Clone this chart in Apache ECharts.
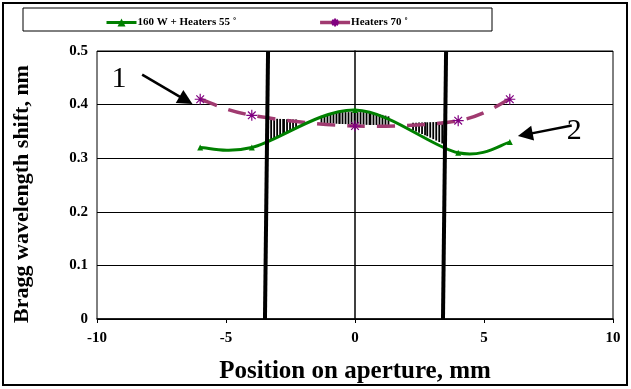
<!DOCTYPE html>
<html>
<head>
<meta charset="utf-8">
<script src="https://cdn.jsdelivr.net/npm/echarts@6/dist/echarts.min.js"></script>
<style>
  html, body { margin: 0; padding: 0; background: #fff; }
  #main { width: 631px; height: 389px; }
</style>
</head>
<body>
<div id="main"></div>
<script>
// data
var positions = [-6, -4, 0, 4, 6]
var shift160W = [0.32, 0.32, 0.39, 0.31, 0.33]
var shift70 = [0.41, 0.38, 0.36, 0.37, 0.41]
var xTicks = [-10, -5, 0, 5, 10]
var yTicks = [0, 0.1, 0.2, 0.3, 0.4, 0.5]
// aperture edges (thick black lines), slightly tilted
var leftEdge = [[-3.49, 0], [-3.37, 0.5]]
var rightEdge = [[3.41, 0], [3.53, 0.5]]
// hatched zones between curves: [xStart, xEnd, topStart, topEnd, bottomStart, bottomEnd]
var hatchBands = [
    [-3.25, -2.75, 0.374, 0.373, 0.335, 0.345],
    [-2.75, -2.2, 0.373, 0.372, 0.345, 0.356],
    [-1.3, -0.6, 0.377, 0.386, 0.366, 0.364],
    [-0.6, 0.6, 0.386, 0.386, 0.364, 0.362],
    [0.6, 1.4, 0.386, 0.377, 0.362, 0.362],
    [2.25, 2.8, 0.366, 0.367, 0.352, 0.341],
    [2.8, 3.4, 0.367, 0.368, 0.341, 0.327]
]
// annotation arrows and labels
var arrows = [
    [[-8.25, 0.456], [-6.55, 0.408]],
    [[8.4, 0.361], [6.6, 0.344]]
]
var notes = [
    [-9.15, 0.448, '1'],
    [8.5, 0.35, '2']
]

var name160 = '160 W + Heaters 55 ˚'
var name70 = 'Heaters 70 ˚'

function pairs (xs, ys) {
    var out = []
    for (var i = 0; i < xs.length; i++) {
        out.push([xs[i], ys[i]])
    }
    return out
}

// excel-like smoothed curve (catmull-rom bezier), drawn through the axis scales
function smoothCurve (xs, ys, style) {
    return {
        type: 'custom',
        silent: true,
        data: pairs(xs, ys),
        z: 3,
        renderItem: function (params, api) {
            if (params.dataIndex !== 0) return null
            var pts = []
            for (var i = 0; i < xs.length; i++) {
                pts.push(api.coord([xs[i], ys[i]]))
            }
            var d = 'M' + pts[0][0] + ' ' + pts[0][1]
            for (var j = 0; j < pts.length - 1; j++) {
                var p0 = pts[j > 0 ? j - 1 : j]
                var p1 = pts[j]
                var p2 = pts[j + 1]
                var p3 = pts[j + 2 < pts.length ? j + 2 : j + 1]
                var c1x = p1[0] + (p2[0] - p0[0]) / 6
                var c1y = p1[1] + (p2[1] - p0[1]) / 6
                var c2x = p2[0] - (p3[0] - p1[0]) / 6
                var c2y = p2[1] - (p3[1] - p1[1]) / 6
                d += ' C' + c1x + ' ' + c1y + ' ' + c2x + ' ' + c2y + ' ' + p2[0] + ' ' + p2[1]
            }
            return {
                type: 'path',
                shape: { pathData: d },
                style: style
            }
        }
    }
}

var serif = '"Liberation Serif", "DejaVu Serif", serif'
var myChart = echarts.init(document.getElementById('main'))

var curve70 = smoothCurve(positions, shift70, { fill: 'none', stroke: '#a03a70', lineWidth: 3.5, lineDash: [18, 12] })
var curve160 = smoothCurve(positions, shift160W, { fill: 'none', stroke: '#008000', lineWidth: 3 })
curve160.z = 4

var option = {
    backgroundColor: '#fff',
    animation: false,
    textStyle: { fontFamily: serif },
    graphic: [
        {
            type: 'rect',
            shape: { x: 3, y: 3, width: 624, height: 382 },
            style: { fill: 'none', stroke: '#000', lineWidth: 2 }
        },
        {
            type: 'rect',
            shape: { x: 23, y: 8, width: 469, height: 23 },
            style: { fill: 'none', stroke: '#000', lineWidth: 1 }
        }
    ],
    legend: {
        data: [
            { name: name160, lineStyle: { opacity: 1, color: '#008000', width: 3 } },
            { name: name70, lineStyle: { opacity: 1, color: '#a03a70', width: 3.5, type: 'solid' } }
        ],
        left: 100,
        top: 12,
        itemWidth: 30,
        itemHeight: 10,
        itemGap: 82,
        textStyle: { fontFamily: serif, fontWeight: 'bold', fontSize: 11, color: '#000', padding: [0, 0, 0, -4] }
    },
    grid: {
        left: 97,
        right: 18,
        top: 51,
        bottom: 68,
        show: true,
        borderColor: '#000',
        borderWidth: 1
    },
    xAxis: {
        type: 'value',
        min: xTicks[0],
        max: xTicks[xTicks.length - 1],
        interval: 5,
        name: 'Position on aperture, mm',
        nameLocation: 'middle',
        nameGap: 40,
        nameTextStyle: { fontFamily: serif, fontWeight: 'bold', fontSize: 25, color: '#000' },
        axisLine: { lineStyle: { color: '#000', width: 1.5 } },
        axisTick: { length: 4, lineStyle: { color: '#000' } },
        axisLabel: { fontFamily: serif, fontWeight: 'bold', fontSize: 15, color: '#000', margin: 12 },
        splitLine: { show: false }
    },
    yAxis: {
        type: 'value',
        min: yTicks[0],
        max: yTicks[yTicks.length - 1],
        interval: 0.1,
        name: 'Bragg wavelength shift, nm',
        nameLocation: 'middle',
        nameGap: 64,
        nameTextStyle: { fontFamily: serif, fontWeight: 'bold', fontSize: 22, color: '#000', padding: [0, 18, 0, 0] },
        axisLine: { show: true, lineStyle: { color: '#000', width: 1.5 } },
        axisTick: { show: true, length: 4, lineStyle: { color: '#000' } },
        axisLabel: { fontFamily: serif, fontWeight: 'bold', fontSize: 15, color: '#000', margin: 9 },
        splitLine: { show: true, lineStyle: { color: '#000', width: 1 } }
    },
    series: [
        {
            name: 'hatch',
            type: 'custom',
            silent: true,
            data: hatchBands,
            encode: { x: [0, 1], y: [2, 3, 4, 5] },
            z: 2,
            renderItem: function (params, api) {
                var p0 = api.coord([api.value(0), api.value(2)])
                var p1 = api.coord([api.value(1), api.value(3)])
                var b0 = api.coord([api.value(0), api.value(4)])
                var b1 = api.coord([api.value(1), api.value(5)])
                var kids = []
                var w = p1[0] - p0[0]
                for (var px = 0; px <= w; px += 3) {
                    var t = w > 0 ? px / w : 0
                    var x = p0[0] + px
                    kids.push({
                        type: 'line',
                        shape: {
                            x1: x, y1: p0[1] + (p1[1] - p0[1]) * t,
                            x2: x, y2: b0[1] + (b1[1] - b0[1]) * t
                        },
                        style: { stroke: '#000', lineWidth: 1.8 }
                    })
                }
                return { type: 'group', children: kids }
            }
        },
        curve70,
        curve160,
        {
            name: name70,
            type: 'line',
            data: pairs(positions, shift70),
            symbol: 'path://M5 0L5 10M0 5L10 5M1.5 1.5L8.5 8.5M8.5 1.5L1.5 8.5',
            symbolSize: 11,
            z: 5,
            itemStyle: { color: '#800080', borderColor: '#800080', borderWidth: 1.2 },
            lineStyle: { color: '#a03a70', width: 3.5, opacity: 0 }
        },
        {
            name: name160,
            type: 'line',
            data: pairs(positions, shift160W),
            symbol: 'triangle',
            symbolSize: 6,
            z: 5,
            itemStyle: { color: '#008000' },
            lineStyle: { color: '#008000', width: 3, opacity: 0 }
        },
        {
            name: 'edgeL',
            type: 'line',
            data: leftEdge,
            symbol: 'none',
            z: 6,
            lineStyle: { color: '#000', width: 4 }
        },
        {
            name: 'edgeR',
            type: 'line',
            data: rightEdge,
            symbol: 'none',
            z: 6,
            lineStyle: { color: '#000', width: 4 }
        },
        {
            name: 'arrows',
            type: 'lines',
            coordinateSystem: 'cartesian2d',
            data: arrows.map(function (a) { return { coords: a } }),
            symbol: ['none', 'triangle'],
            symbolSize: [0, 15],
            z: 6,
            lineStyle: { color: '#000', width: 2.5, opacity: 1 }
        },
        {
            name: 'notes',
            type: 'scatter',
            data: notes.map(function (n) { return { value: [n[0], n[1]], label: { formatter: n[2] } } }),
            symbolSize: 0,
            z: 6,
            itemStyle: { opacity: 1 },
            label: {
                show: true,
                position: 'inside',
                fontFamily: serif,
                fontSize: 30,
                color: '#000',
                textBorderWidth: 0
            }
        }
    ]
}

myChart.setOption(option)
window.onresize = myChart.resize
</script>
</body>
</html>
